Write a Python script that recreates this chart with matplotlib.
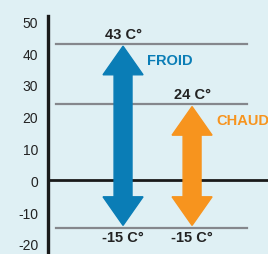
import matplotlib.pyplot as plt
from matplotlib.patches import Polygon

plt.rcParams['font.family'] = ['Liberation Sans', 'DejaVu Sans']

# Data
modes = ['FROID', 'CHAUD']
temp_min = [-15, -15]
temp_max = [43, 24]
colors = ['#0a7db6', '#f7941e']
yticks = [50, 40, 30, 20, 10, 0, -10, -20]

bg = '#dff0f4'
fig = plt.figure(figsize=(2.68, 2.55), dpi=100, facecolor=bg)
ax = fig.add_axes([48 / 268, 0, 1 - 48 / 268, 1 - 17 / 255], facecolor=bg)

ax.set_xlim(-0.087, 3.1)
ax.set_ylim(-23.2, 51.7)

# reference lines
for v in sorted(set(temp_max + temp_min)):
    ax.plot([0.03, 2.8], [v, v], color='#85878c', lw=1.6, zorder=1)
ax.axhline(0, color='#1a1a1a', lw=2.0, zorder=2)

head_w = 0.29   # half width of head (x units)
shaft_w = 0.13  # half width of shaft
head_l = 9.0    # head length (y units)
gap = 0.8       # arrow tips stop just short of the lines

for i, (lo, hi, c, name) in enumerate(zip(temp_min, temp_max, colors, modes)):
    x = i + 1
    top, bot = hi - gap, lo + gap
    pts = [
        (x, top), (x + head_w, top - head_l), (x + shaft_w, top - head_l),
        (x + shaft_w, bot + head_l), (x + head_w, bot + head_l), (x, bot),
        (x - head_w, bot + head_l), (x - shaft_w, bot + head_l),
        (x - shaft_w, top - head_l), (x - head_w, top - head_l),
    ]
    ax.add_patch(Polygon(pts, closed=True, color=c, zorder=3))
    ax.text(x, hi + 3, f'{hi} C°', ha='center', va='center', fontsize=10.5,
            fontweight='bold', color='#222222')
    ax.text(x, lo - 3, f'{lo} C°', ha='center', va='center', fontsize=10.5,
            fontweight='bold', color='#222222')
    ax.text(x + 0.35, hi - 5, name, ha='left', va='center', fontsize=10.5,
            fontweight='bold', color=c, clip_on=False)

ax.set_yticks(yticks)
ax.set_yticklabels([str(t) for t in yticks], fontsize=10, color='#222222')
ax.set_xticks([])
ax.tick_params(axis='y', length=0, pad=7)
for s in ['top', 'right', 'bottom']:
    ax.spines[s].set_visible(False)
ax.spines['left'].set_linewidth(2.4)
ax.spines['left'].set_color('#1a1a1a')

fig.savefig('out.png', dpi=100, facecolor=bg)
